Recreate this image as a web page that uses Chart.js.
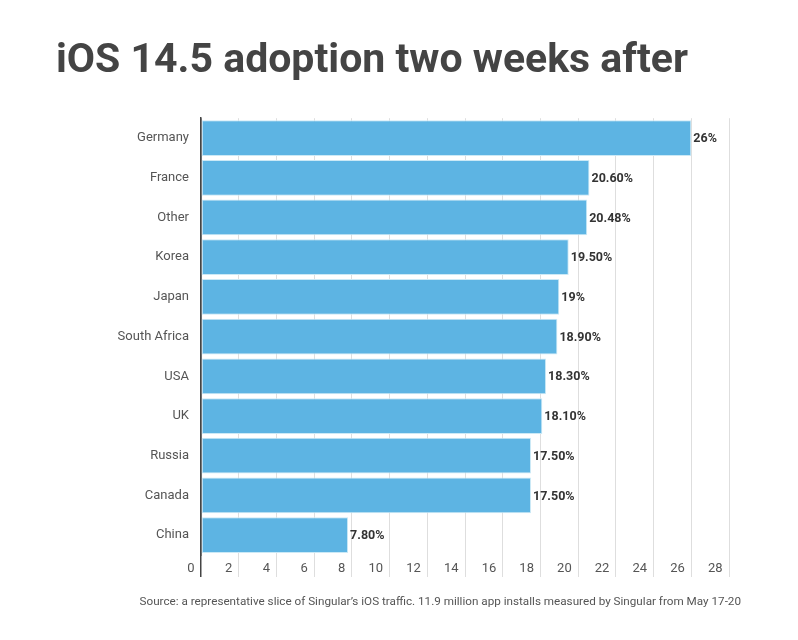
<!DOCTYPE html>
<html>
<head>
<meta charset="utf-8">
<script src="https://cdn.jsdelivr.net/npm/chart.js@4/dist/chart.umd.min.js"></script>
<style>
  html, body { margin: 0; padding: 0; background: #fff; }
  #wrap { width: 798px; height: 640px; }
</style>
</head>
<body>
<div id="wrap"><canvas id="adoptionChart"></canvas></div>
<script>
var countries = ["Germany", "France", "Other", "Korea", "Japan", "South Africa", "USA", "UK", "Russia", "Canada", "China"];
var adoption = [26, 20.6, 20.48, 19.5, 19, 18.9, 18.3, 18.1, 17.5, 17.5, 7.8];
var adoptionLabels = ["26%", "20.60%", "20.48%", "19.50%", "19%", "18.90%", "18.30%", "18.10%", "17.50%", "17.50%", "7.80%"];
var sourceNote = "Source: a representative slice of Singular\u2019s iOS traffic. 11.9 million app installs measured by Singular from May 17-20";

// value labels at the end of each bar
var barLabels = {
  id: "barLabels",
  afterDatasetsDraw: function (chart) {
    var ctx = chart.ctx;
    var meta = chart.getDatasetMeta(0);
    ctx.save();
    ctx.font = "bold 12.5px Roboto";
    ctx.fillStyle = "#333";
    ctx.textAlign = "left";
    ctx.textBaseline = "middle";
    meta.data.forEach(function (bar, i) {
      ctx.fillText(adoptionLabels[i], bar.x + 2, bar.y + 1);
    });
    ctx.restore();
  }
};

// source line under the axis
var sourceText = {
  id: "sourceText",
  afterDraw: function (chart) {
    var ctx = chart.ctx;
    ctx.save();
    ctx.font = "11.7px Roboto";
    ctx.fillStyle = "#555";
    ctx.textAlign = "right";
    ctx.textBaseline = "middle";
    ctx.fillText(sourceNote, 741, 602);
    ctx.restore();
  }
};

var ctx = document.getElementById("adoptionChart").getContext("2d");
var myChart = new Chart(ctx, {
  type: "bar",
  data: {
    labels: countries,
    datasets: [
      {
        label: "iOS 14.5 adoption",
        data: adoption,
        backgroundColor: "#5db4e3",
        borderColor: "#cbe9f6",
        borderWidth: 1,
        borderSkipped: false,
        barPercentage: 1,
        categoryPercentage: 0.9
      }
    ]
  },
  plugins: [barLabels, sourceText],
  options: {
    indexAxis: "y",
    responsive: true,
    maintainAspectRatio: false,
    animation: false,
    layout: {
      padding: { left: 56, right: 69, top: 37, bottom: 63 }
    },
    plugins: {
      legend: { display: false },
      tooltip: { enabled: false },
      title: {
        display: true,
        text: "iOS 14.5 adoption two weeks after",
        align: "start",
        color: "#444",
        font: { family: "Roboto", size: 41, weight: "bold" },
        padding: { top: 0, bottom: 32 }
      }
    },
    scales: {
      x: {
        min: 0,
        max: 28,
        afterFit: function (scale) {
          scale.height = 22;
        },
        ticks: {
          stepSize: 2,
          align: "end",
          padding: -16,
          color: "#555",
          font: { family: "Roboto", size: 13 },
          callback: function (value) {
            return value + "  ";
          }
        },
        grid: {
          drawTicks: true,
          tickLength: 22,
          color: function (c) {
            return c.index === 0 ? "#444" : "#dedede";
          },
          lineWidth: function (c) {
            return c.index === 0 ? 1.5 : 1;
          }
        },
        border: { display: false }
      },
      y: {
        afterFit: function (scale) {
          scale.width = 145;
        },
        ticks: {
          padding: 4,
          color: "#555",
          font: { family: "Roboto", size: 13 }
        },
        grid: { display: false },
        border: { display: true, color: "#444", width: 1.5 }
      }
    }
  }
});
</script>
</body>
</html>
